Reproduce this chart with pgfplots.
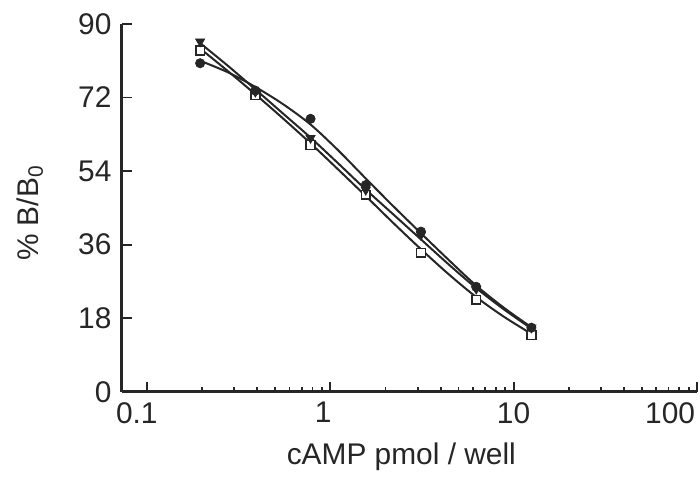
\documentclass[border=0pt]{standalone}
\usepackage{fontspec}
\setmainfont{Liberation Sans}
\usepackage{pgfplots}
\pgfplotsset{compat=1.18}

\begin{document}
\fontsize{15}{18}\selectfont
\begin{tikzpicture}
\begin{axis}[
  scale only axis, width=287.7bp, height=184bp,
  xmode=log, xmin=0.073, xmax=100,
  ymin=0, ymax=90, ytick={0,18,36,54,72,90},
  axis x line*=bottom, axis y line*=left,
  xtick={0.1,1,10,100},
  xticklabels={\hspace*{-10bp}0.1,\hspace*{-7bp}1,10,{\makebox[0pt][r]{100\hspace*{1bp}}}},
  minor xtick={0.2,0.3,0.4,0.5,0.6,0.7,0.8,0.9,2,3,4,5,6,7,8,9,20,30,40,50,60,70,80,90},
  tick align=inside, major tick length=5bp, minor tick length=2.5bp,
  every tick/.style={line width=0.9bp, black!85},
  axis line style={line width=1.4bp, black!85},
  /pgf/number format/assume math mode=true,
  tick label style={font=\fontsize{15}{18}\selectfont, text=black!85},
  xticklabel style={inner xsep=0pt},
  label style={font=\fontsize{15}{18}\selectfont, text=black!85},
  xlabel={cAMP pmol / well},
  ylabel={\% B/B\textsubscript{0}},
  xlabel style={at={(axis description cs:0.486,0)}, anchor=base, yshift=-36.5bp},
  ylabel style={at={(axis description cs:-0.16,0.486)}, anchor=center},
  clip=false,
]
% fitted curves
\addplot[black!85, line width=1bp, smooth] coordinates {
(0.1953,81.0)(0.2762,78.2)(0.3906,74.6)(0.5524,70.4)(0.7813,65.4)(1.1049,59.1)(1.5625,52.2)(2.2097,45.4)(3.125,38.8)(4.4194,32.3)(6.25,26.0)(8.8388,20.6)(12.5,15.8)};
\addplot[black!85, line width=1bp, smooth] coordinates {
(0.1953,85.3)(0.2762,79.8)(0.3906,74.0)(0.5524,68.1)(0.7813,62.2)(1.1049,55.9)(1.5625,49.5)(2.2097,43.4)(3.125,37.3)(4.4194,31.2)(6.25,25.4)(8.8388,20.2)(12.5,15.5)};
\addplot[black!85, line width=1bp, smooth] coordinates {
(0.1953,84.0)(0.2762,78.5)(0.3906,72.8)(0.5524,66.9)(0.7813,60.8)(1.1049,54.4)(1.5625,47.9)(2.2097,41.3)(3.125,34.9)(4.4194,28.8)(6.25,23.2)(8.8388,18.4)(12.5,14.2)};
% data points
\addplot[only marks, mark=square*, mark size=2.2bp, mark options={fill=white, draw=black!85, line width=0.8bp}] coordinates {
(0.1953,83.5)(0.3906,72.6)(0.7813,60.4)(1.5625,48.2)(3.125,34.0)(6.25,22.5)(12.5,13.9)};
\addplot[only marks, mark=triangle*, mark size=2.6bp, mark options={rotate=180, fill=black!85, draw=black!85}] coordinates {
(0.1953,85.7)(0.3906,73.4)(0.7813,62.1)(1.5625,49.4)(3.125,38.4)(6.25,25.2)(12.5,15.7)};
\addplot[only marks, mark=*, mark size=2.3bp, mark options={fill=black!85, draw=black!85}] coordinates {
(0.1953,80.4)(0.3906,73.7)(0.7813,66.8)(1.5625,50.6)(3.125,39.2)(6.25,25.7)(12.5,15.7)};
\end{axis}
\path ([xshift=-60.9bp,yshift=-40.5bp]current axis.south west) rectangle ([xshift=1bp,yshift=12bp]current axis.north east);
\end{tikzpicture}
\end{document}
